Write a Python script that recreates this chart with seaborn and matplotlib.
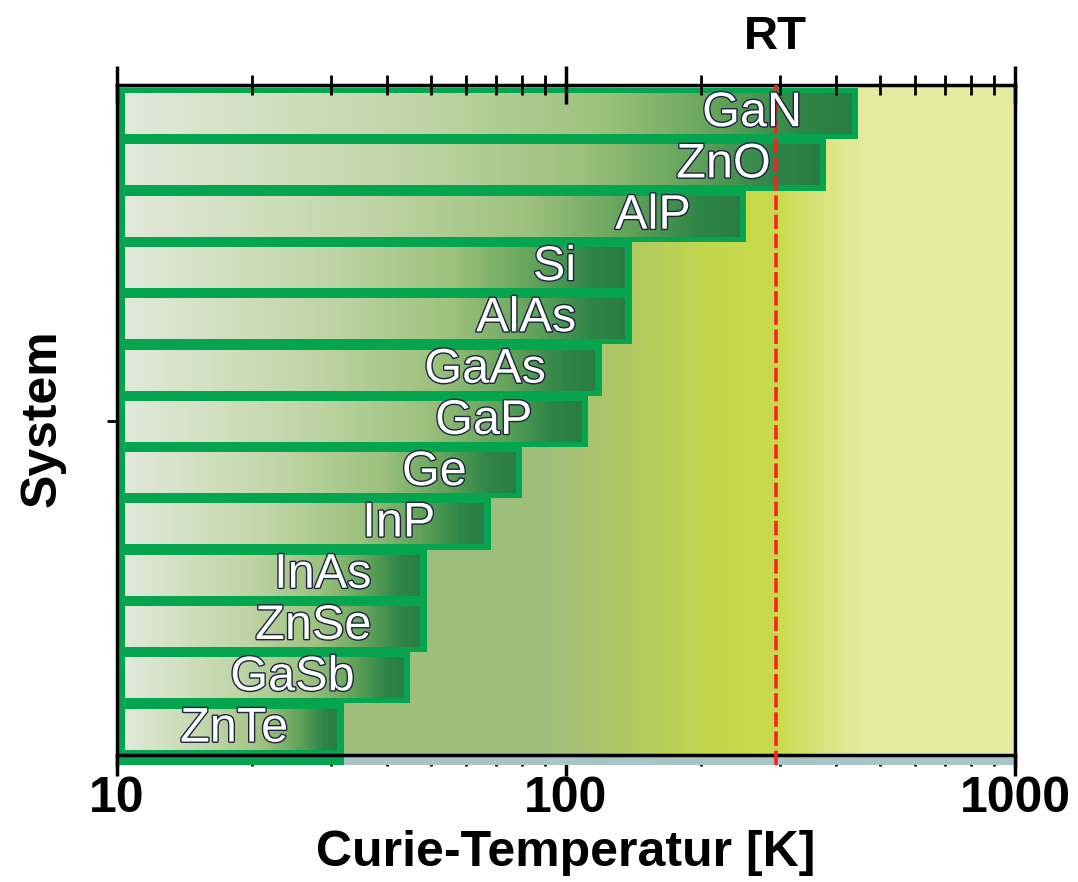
import numpy as np
import matplotlib
matplotlib.use("Agg")
import matplotlib.pyplot as plt
import matplotlib.patheffects as pe
from matplotlib.colors import LinearSegmentedColormap
from matplotlib.ticker import LogLocator, NullFormatter
import seaborn as sns

# data
systems = ["GaN", "ZnO", "AlP", "Si", "AlAs", "GaAs", "GaP",
           "Ge", "InP", "InAs", "ZnSe", "GaSb", "ZnTe"]
curie_temp = [447, 380, 252, 140, 140, 120, 112, 80, 68, 49, 49, 45, 32]
room_temp = 293
x_min, x_max = 10, 1000
x_ticks = [10, 100, 1000]
x_tick_labels = ["10", "100", "1000"]

sns.set_theme(style="ticks")
plt.rcParams["font.family"] = ["Liberation Sans", "DejaVu Sans"]
plt.rcParams["text.color"] = "black"
plt.rcParams["axes.labelcolor"] = "black"
plt.rcParams["xtick.color"] = "black"
plt.rcParams["ytick.color"] = "black"

frame_green = "#05a54f"
bar_cmap = LinearSegmentedColormap.from_list("bar", [
    (0.0, "#e1e9da"), (0.4, "#c0d5a6"), (0.66, "#9cc17d"),
    (0.82, "#62a25a"), (0.93, "#2f8548"), (1.0, "#2a7c44")])
bg_cmap = LinearSegmentedColormap.from_list("bg", [
    (0.0, "#9dbd7e"), (0.48, "#9fbf7b"), (0.56, "#afc766"),
    (0.66, "#c3d74c"), (0.735, "#c9db4b"), (0.78, "#dae27a"),
    (0.835, "#e6eba2"), (1.0, "#e7eca3")])

fig = plt.figure(figsize=(10.78, 8.82), dpi=100)
ax = fig.add_axes([0.1085, 0.1327, 0.833, 0.771])

#green frames of the bars
sns.barplot(x=curie_temp, y=systems, orient="h", width=1.0, color=frame_green,
            saturation=1, edgecolor="none", linewidth=0, log_scale=(True, False),
            ax=ax, zorder=2)
bars = list(ax.patches)
# bars start at the left spine instead of 0 (log axis)
for p in bars:
    right = p.get_x() + p.get_width()
    p.set_x(x_min)
    p.set_width(right - x_min)
    p.set_facecolor(frame_green)
    p.set_alpha(1)
    p.set_visible(True)

ax.set_xlim(x_min, x_max)
ax.set_ylim(12.7, -0.56)
ax.set_autoscale_on(False)

#background gradient + strip below the bottom spine
ax.imshow(np.linspace(0, 1, 512)[None, :], cmap=bg_cmap, extent=(0, 1, 0, 1),
          transform=ax.transAxes, aspect="auto", zorder=0)
ax.axhspan(12.5, 12.7, color="#a8c4c4", zorder=1, lw=0)

#gradient inside every bar
left_in = x_min * 10 ** (8 / 451)
for p in bars:
    yc = p.get_y() + p.get_height() / 2
    right_in = (p.get_x() + p.get_width()) / 10 ** (6 / 451)
    xs = np.linspace(left_in, right_in, 3000)
    vals = (np.log10(xs) - np.log10(left_in)) / (np.log10(right_in) - np.log10(left_in))
    ax.imshow(vals[None, :], cmap=bar_cmap, vmin=0, vmax=1,
              extent=(left_in, right_in, yc + 0.4, yc - 0.4),
              aspect="auto", interpolation="bilinear", zorder=3)

# the lowest frame runs on into the strip
bars[-1].set_height(bars[-1].get_height() + 0.2)

for i, (name, val) in enumerate(zip(systems, curie_temp)):
    ax.annotate(name, xy=(val, i), xytext=(-40, 0), textcoords="offset points",
                ha="right", va="center", fontsize=35, color="white", zorder=5,
                path_effects=[pe.withStroke(linewidth=2, foreground="#1c2340")])

ax.axvline(room_temp, color="#ff2020", lw=2.6, ls=(0, (4, 1.3)), zorder=4)
ax.text(room_temp, 1.07, "RT", transform=ax.get_xaxis_transform(),
        ha="center", va="center", fontsize=34, fontweight="bold")

ax.set_xlim(x_min, x_max)
ax.set_ylim(12.7, -0.56)

for s in ax.spines.values():
    s.set_color("black")
    s.set_linewidth(2.5)
    s.set_visible(True)
ax.spines["bottom"].set_position(("data", 12.5))

ax.set_xticks(x_ticks, labels=x_tick_labels)
ax.xaxis.set_minor_locator(LogLocator(subs=np.arange(2, 10)))
ax.xaxis.set_minor_formatter(NullFormatter())
ax.tick_params(axis="x", which="major", direction="out", length=15, width=2.5,
               labelsize=36, pad=0, bottom=True)
ax.tick_params(axis="x", which="minor", direction="out", length=8, width=2, bottom=True)
for lbl in ax.get_xticklabels():
    lbl.set_fontweight("bold")

ax.set_yticks([6], labels=[""])
ax.tick_params(axis="y", direction="out", length=7, width=2, left=True)

ax.set_xlabel("Curie-Temperatur [K]", fontsize=36, fontweight="bold")
ax.set_ylabel("System", fontsize=36, fontweight="bold")
ax.xaxis.set_label_coords(0.5, -0.095)
ax.yaxis.set_label_coords(-0.057, 0.51)

#top axis only for the ticks
top = ax.twiny()
top.set_xscale("log")
top.set_xlim(x_min, x_max)
top.set_xticks(x_ticks, labels=["", "", ""])
top.xaxis.set_minor_locator(LogLocator(subs=np.arange(2, 10)))
top.xaxis.set_minor_formatter(NullFormatter())
top.tick_params(axis="x", which="major", direction="inout", length=28, width=2.5, top=True)
top.tick_params(axis="x", which="minor", direction="inout", length=14, width=2, top=True)
for s in top.spines.values():
    s.set_visible(False)

fig.savefig("out.png", dpi=100)
